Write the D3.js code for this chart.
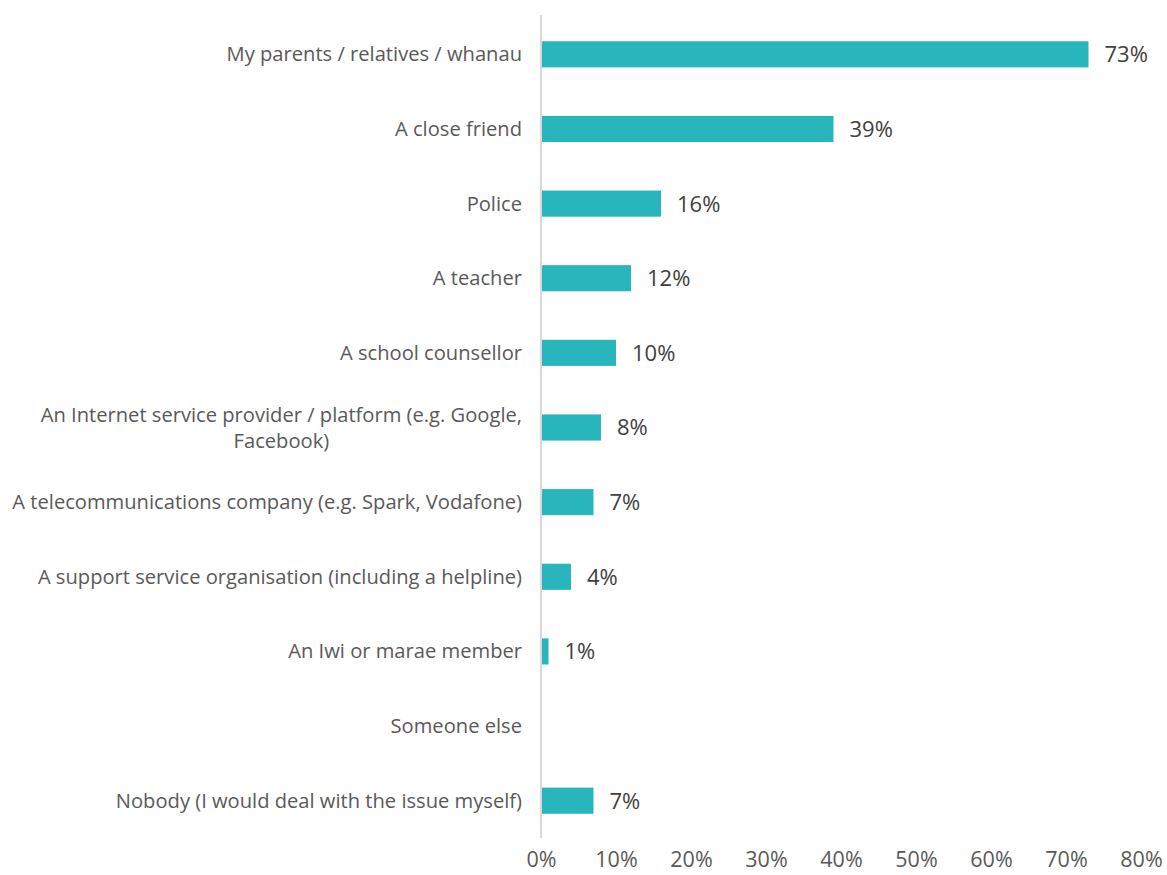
<!DOCTYPE html>
<html><head><meta charset="utf-8">
<script src="https://cdn.jsdelivr.net/npm/d3@7"></script>
<style>body{margin:0;background:#fff}svg{display:block}</style>
</head><body>
<svg id="chart" width="1167" height="875"></svg>
<script>
const categories = [
  ["My parents / relatives / whanau"],
  ["A close friend"],
  ["Police"],
  ["A teacher"],
  ["A school counsellor"],
  ["An Internet service provider / platform (e.g. Google,", "Facebook)"],
  ["A telecommunications company (e.g. Spark, Vodafone)"],
  ["A support service organisation (including a helpline)"],
  ["An Iwi or marae member"],
  ["Someone else"],
  ["Nobody (I would deal with the issue myself)"]
];
const values = [73, 39, 16, 12, 10, 8, 7, 4, 1, null, 7];
const tickValues = [0, 10, 20, 30, 40, 50, 60, 70, 80];

const svg = d3.select("#chart");
const font = "'Open Sans', sans-serif";
const labelFont = "'Open Sans', sans-serif";
const x = d3.scaleLinear().domain([0, 80]).range([541, 1141]);
const y = d3.scaleBand().domain(d3.range(categories.length)).range([17, 838]).paddingInner(0.65).paddingOuter(0.325);

svg.selectAll("rect.bar").data(values.map((v,i)=>({v,i})).filter(d=>d.v!=null))
  .enter().append("rect").attr("class","bar")
  .attr("x", x(0)).attr("y", d=>y(d.i))
  .attr("width", d=>x(d.v)-x(0)).attr("height", y.bandwidth())
  .attr("fill", "#29b5bc");

svg.selectAll("text.val").data(values.map((v,i)=>({v,i})).filter(d=>d.v!=null))
  .enter().append("text").attr("class","val")
  .attr("x", d=>x(d.v)+16).attr("y", d=>y(d.i)+y.bandwidth()/2)
  .attr("dy","0.36em").attr("font-family", font).attr("font-size", 22)
  .attr("fill","#404040").text(d=>d.v+"%");

svg.append("line").attr("x1", x(0)).attr("x2", x(0)).attr("y1", 15).attr("y2", 838)
  .attr("stroke", "#d9d9d9").attr("stroke-width", 2);

const targetW = 510; // width of the longest label line in the reference
const probe = svg.append("text").attr("font-family", labelFont).attr("font-size", 18)
  .text(categories[6][0]);
const fs = 18 * targetW / probe.node().getComputedTextLength();
probe.remove();

categories.forEach((lines, i) => {
  const cy = y(i) + y.bandwidth()/2;
  const lh = 26;
  const start = cy - (lines.length-1)*lh/2;
  let firstW = 0;
  lines.forEach((ln, k) => {
    const t = svg.append("text")
      .attr("font-family", labelFont).attr("font-size", fs).attr("fill","#595959")
      .attr("y", start + k*lh).attr("dy","0.35em").text(ln);
    if (k === 0) {
      t.attr("text-anchor","end").attr("x", 522);
      firstW = t.node().getComputedTextLength();
    } else {
      t.attr("text-anchor","middle").attr("x", 522 - firstW/2);
    }
  });
});

const xAxis = d3.axisBottom(x).tickValues(tickValues).tickSize(0).tickPadding(0).tickFormat(d=>d+"%");
const g = svg.append("g").attr("transform","translate(0,852)").call(xAxis);
g.select(".domain").remove();
g.selectAll("text").attr("font-family", font).attr("font-size", 21.5).attr("fill","#595959");
</script>
</body></html>
